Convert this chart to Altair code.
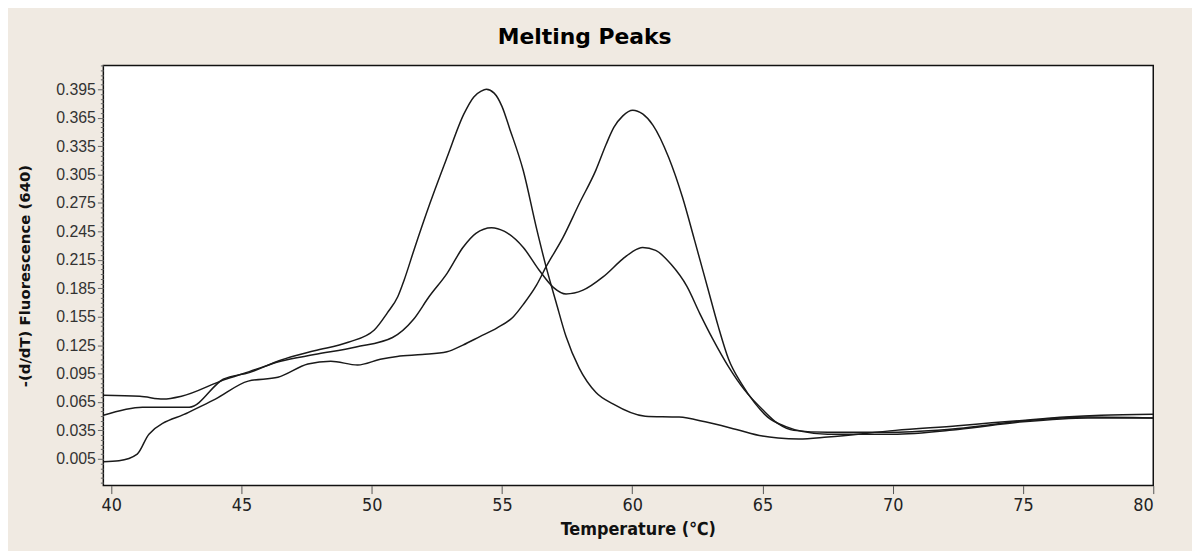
import altair as alt
import pandas as pd

# Curve A: tall first peak (~54.4 °C)
temps_a = [39.7, 41.2, 43.0, 44.3, 45.3, 46.5, 47.8, 49.1, 50.1, 50.6, 51.0, 51.25, 51.63, 52.24,
           52.89, 53.54, 53.92, 54.2, 54.4, 54.7, 55.0, 55.29, 55.82, 56.32, 56.7, 57.08, 57.46,
           57.96, 58.61, 59.26, 60.5, 61.8, 62.8, 64.0, 65.0, 65.6, 66.4, 67.5, 70.1, 72.5, 73.8,
           75.2, 76.6, 78.0, 80.0]
vals_a = [0.051, 0.0595, 0.0595, 0.089, 0.096, 0.109, 0.119, 0.128, 0.141, 0.159, 0.176, 0.194,
          0.226, 0.275, 0.323, 0.369, 0.387, 0.393, 0.395, 0.391, 0.377, 0.354, 0.309, 0.249,
          0.207, 0.170, 0.134, 0.101, 0.075, 0.063, 0.050, 0.049, 0.044, 0.036, 0.029, 0.027,
          0.026, 0.028, 0.035, 0.040, 0.043, 0.046, 0.049, 0.051, 0.052]

# Curve B: double peak (~54.7 and ~60.4 °C)
temps_b = [39.7, 41.1, 42.0, 42.7, 44.3, 45.3, 46.5, 47.8, 49.4, 50.8, 51.6, 52.2, 52.9, 53.5,
           54.0, 54.6, 55.1, 55.82, 56.43, 56.97, 57.46, 58.11, 58.88, 59.64, 60.0, 60.4, 60.9,
           61.5, 62.1, 62.6, 63.1, 63.7, 64.3, 65.0, 65.6, 66.2, 67.5, 70.0, 72.5, 75.0, 77.5,
           80.0]
vals_b = [0.072, 0.071, 0.068, 0.071, 0.088, 0.097, 0.108, 0.115, 0.123, 0.133, 0.152, 0.176,
          0.201, 0.228, 0.243, 0.249, 0.245, 0.228, 0.204, 0.186, 0.179, 0.183, 0.197, 0.216,
          0.2235, 0.228, 0.225, 0.210, 0.187, 0.158, 0.131, 0.102, 0.078, 0.057, 0.042, 0.035,
          0.033, 0.033, 0.037, 0.045, 0.049, 0.048]

# Curve C: tall second peak (~60 °C)
temps_c = [39.7, 40.3, 41.0, 41.45, 42.97, 44.0, 45.26, 46.4, 47.55, 48.43, 49.46, 50.33, 50.98,
           51.94, 52.89, 53.5, 54.15, 54.8, 55.44, 55.82, 56.32, 56.7, 57.35, 57.96, 58.61, 59.0,
           59.3, 59.64, 60.02, 60.4, 60.8, 61.4, 61.93, 62.4, 62.9, 63.3, 63.7, 64.2, 64.7, 65.2,
           65.9, 66.5, 67.5, 70.0, 72.5, 75.0, 77.5, 80.0]
vals_c = [0.002, 0.003, 0.010, 0.031, 0.054, 0.068, 0.087, 0.091, 0.105, 0.108, 0.104, 0.110,
          0.113, 0.115, 0.118, 0.125, 0.134, 0.143, 0.155, 0.168, 0.188, 0.208, 0.239, 0.274,
          0.310, 0.337, 0.355, 0.367, 0.373, 0.369, 0.357, 0.323, 0.281, 0.235, 0.185, 0.145,
          0.110, 0.084, 0.064, 0.049, 0.039, 0.034, 0.031, 0.031, 0.036, 0.044, 0.048, 0.048]

x_ticks = [40, 45, 50, 55, 60, 65, 70, 75, 80]
y_all = [round(-0.02 + 0.005 * k, 3) for k in range(89)]

rows = []
for name, ts, vs in (("A", temps_a, vals_a), ("B", temps_b, vals_b), ("C", temps_c, vals_c)):
    for t, v in zip(ts, vs):
        rows.append({"curve": name, "temp": t, "val": v})
df = pd.DataFrame(rows)

major_test = "abs((datum.value - 0.005) / 0.03 - round((datum.value - 0.005) / 0.03)) < 0.01"
sans = "Liberation Sans, Arial, Helvetica, sans-serif"
narrow = "Liberation Sans Narrow, DejaVu Sans Condensed, Liberation Sans, Arial, sans-serif"

chart = alt.Chart(df).mark_line(
    color="#1a1a1a", strokeWidth=1.5, interpolate="monotone", clip=True
).encode(
    x=alt.X("temp:Q",
            scale=alt.Scale(domain=[39.7, 80], nice=False, zero=False),
            axis=alt.Axis(values=x_ticks, title="Temperature (℃)", grid=False, domain=False,
                          tickSize=8, tickColor="#555", labelPadding=3,
                          labelFont=narrow, labelFontSize=18, labelColor="#222",
                          titleFont=narrow, titleFontSize=18, titleFontWeight="bold",
                          titleColor="#111", titleX=538, titleY=44, titleBaseline="middle")),
    y=alt.Y("val:Q",
            scale=alt.Scale(domain=[-0.0233, 0.4202], nice=False, zero=False),
            axis=alt.Axis(values=y_all, title="-(d/dT) Fluorescence (640)", grid=False, domain=False,
                          format=".3f",
                          labelExpr=f"({major_test}) ? format(datum.value, '.3f') : ''",
                          tickSize={"condition": {"test": major_test, "value": 6}, "value": 3},
                          tickColor="#666", labelPadding=2,
                          labelFont=sans, labelFontSize=16, labelColor="#333",
                          titleFont="DejaVu Sans", titleFontSize=15, titleFontWeight="bold",
                          titleColor="#111", titleAngle=270, titleX=-79, titleY=211.5,
                          titleAlign="center", titleBaseline="middle")),
    detail="curve:N",
).properties(
    width=1057,
    height=423,
    title=alt.TitleParams("Melting Peaks", font="DejaVu Sans", fontSize=22, fontWeight="bold",
                          color="#000", anchor="middle", dx=-44, offset=16),
    padding={"left": 96, "top": 56, "right": 39, "bottom": 64},
    autosize=alt.AutoSizeParams(type="none"),
).configure(
    background="#F0EAE2",
).configure_view(
    fill="white", stroke="#111", strokeWidth=1.5,
)

chart.save("out.html", embed_options={"renderer": "svg", "actions": False})
